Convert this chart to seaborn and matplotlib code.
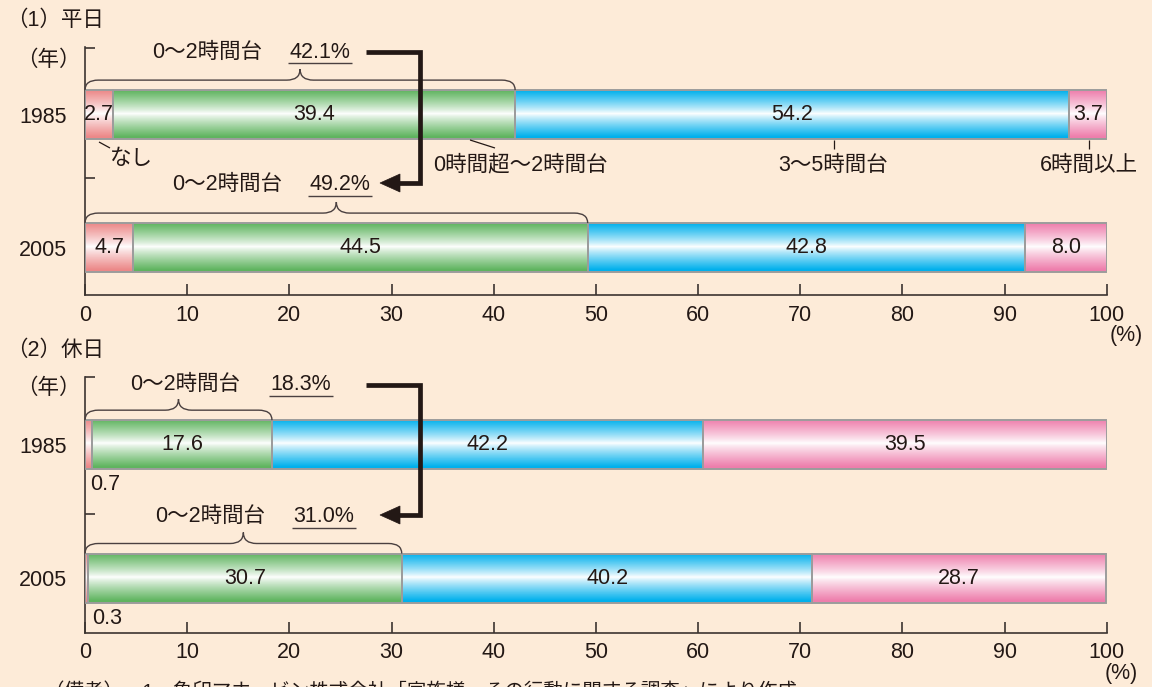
import numpy as np
import matplotlib
matplotlib.use("Agg")
import matplotlib.pyplot as plt
import matplotlib.colors as mcolors
from matplotlib.path import Path
from matplotlib.patches import PathPatch, Polygon
from matplotlib.lines import Line2D
import seaborn as sns

# ---------------- data ----------------
years = ["1985", "2005"]
categories = ["なし", "0時間超〜2時間台", "3〜5時間台", "6時間以上"]
weekday_none = [2.7, 4.7]
weekday_0to2 = [39.4, 44.5]
weekday_3to5 = [54.2, 42.8]
weekday_6plus = [3.7, 8.0]
holiday_none = [0.7, 0.3]
holiday_0to2 = [17.6, 30.7]
holiday_3to5 = [42.2, 40.2]
holiday_6plus = [39.5, 28.7]
xticks = [0, 10, 20, 30, 40, 50, 60, 70, 80, 90, 100]
panel_titles = ["（1）平日", "（2）休日"]
group_label = "0〜2時間台"
footnote = "（備考）　1．象印マホービン株式会社「家族様　その行動に関する調査」により作成"

# ---------------- style ----------------
BG = "#FDEBD8"
TXT = "#231815"
SPINE = "#3C3431"
EDGE = "#9C9C9C"
COLORS = ["#EC8888", "#5FB45F", "#00B0EC", "#EE7EAC"]
BAR_H = 0.368
FS = 15.5

sns.set_style("ticks")
plt.rcParams["font.family"] = ["Liberation Sans", "Noto Sans CJK JP", "DejaVu Sans"]
plt.rcParams["text.color"] = TXT

W, H = 1152, 687
fig = plt.figure(figsize=(W / 100, H / 100), dpi=100, facecolor=BG)


def fx(px):
    return px / W


def fy(py):
    return 1 - py / H


def ftext(px, py, s, size=FS, ha="center", va="center"):
    fig.text(fx(px), fy(py), s, ha=ha, va=va, fontsize=size, color=TXT)


def fline(xs, ys, lw=1.0, color=TXT):
    fig.add_artist(Line2D([fx(v) for v in xs], [fy(v) for v in ys], lw=lw,
                          color=color, solid_joinstyle="miter", solid_capstyle="butt"))


def add_gradient(ax, patch):
    base = np.array(mcolors.to_rgb(patch.get_facecolor()))
    t = np.linspace(0, 1, 80)
    w = np.clip(np.abs(t - 0.48) / 0.48, 0, 1) ** 0.85
    rows = 1 - w[:, None] * (1 - base[None, :])
    img = np.repeat(rows[:, None, :], 2, axis=1)
    x0, y0 = patch.get_x(), patch.get_y()
    x1, y1 = x0 + patch.get_width(), y0 + patch.get_height()
    im = ax.imshow(img, extent=[x0, x1, y1, y0], aspect="auto",
                   interpolation="bilinear", origin="upper", zorder=2)
    im.set_clip_path(patch)
    patch.set_facecolor("none")
    patch.set_zorder(3)


def brace(ax, x0, x1, ycat):
    yb = ycat - BAR_H / 2
    h1, h2 = 0.075, 0.158
    r = 1.3
    xm = (x0 + x1) / 2
    verts = [(x0, yb), (x0, yb - h1), (x0 + r, yb - h1),
             (xm - r, yb - h1), (xm, yb - h1), (xm, yb - h2),
             (xm, yb - h1), (xm + r, yb - h1),
             (x1 - r, yb - h1), (x1, yb - h1), (x1, yb)]
    codes = [Path.MOVETO, Path.CURVE3, Path.CURVE3,
             Path.LINETO, Path.CURVE3, Path.CURVE3,
             Path.CURVE3, Path.CURVE3,
             Path.LINETO, Path.CURVE3, Path.CURVE3]
    ax.add_patch(PathPatch(Path(verts, codes), fill=False, lw=1.0,
                           edgecolor="#4A4040", clip_on=False, zorder=4))


def draw_panel(ax, series, ylim, mid_tick):
    left = np.zeros(len(years))
    for vals, col in zip(series, COLORS):
        sns.barplot(x=vals, y=years, orient="h", color=col, saturation=1,
                    width=BAR_H, left=left.copy(), errorbar=None, ax=ax,
                    edgecolor=EDGE, linewidth=1.4)
        left += np.array(vals)
    for patch in list(ax.patches):
        add_gradient(ax, patch)
    for cont, vals in zip(ax.containers, series):
        labels = [f"{v:.1f}" if v >= 1 else "" for v in vals]
        ax.bar_label(cont, labels=labels, label_type="center", fontsize=FS,
                     color=TXT, zorder=5)
    ax.set_facecolor(BG)
    ax.set_xlim(0, 100)
    ax.set_ylim(*ylim)
    ax.set_xticks(xticks)
    ax.set_xticklabels([str(t) for t in xticks])
    ax.set_yticks([0, 1])
    ax.set_yticklabels(years)
    ax.set_yticks([ylim[1] + 0.004, mid_tick], minor=True)
    ax.tick_params(axis="y", which="major", length=0, pad=13, labelsize=FS,
                   labelcolor=TXT)
    ax.tick_params(axis="y", which="minor", length=7, width=1.2,
                   direction="in", color=SPINE)
    ax.tick_params(axis="x", which="major", length=8, width=1.2,
                   direction="in", color=SPINE, pad=7, labelsize=FS,
                   labelcolor=TXT)
    ax.set_xlabel("")
    ax.set_ylabel("")
    for s in ["top", "right"]:
        ax.spines[s].set_visible(False)
    for s in ["left", "bottom"]:
        ax.spines[s].set_color(SPINE)
        ax.spines[s].set_linewidth(1.2)
    for i in range(len(years)):
        brace(ax, 0, series[0][i] + series[1][i], i)


# ---------------- top panel: weekdays ----------------
ax1 = fig.add_axes([fx(85), fy(295), fx(1106.7) - fx(85), (295 - 47) / H])
wk = [weekday_none, weekday_0to2, weekday_3to5, weekday_6plus]
draw_panel(ax1, wk, (1.357, -0.508), 0.48)

# ---------------- bottom panel: holidays ----------------
ax2 = fig.add_axes([fx(85), fy(632.7), fx(1106.7) - fx(85), (632.7 - 376.7) / H])
hd = [holiday_none, holiday_0to2, holiday_3to5, holiday_6plus]
draw_panel(ax2, hd, (1.41, -0.51), 0.52)

# ---------------- titles / units ----------------
ftext(6, 20, panel_titles[0], ha="left")
ftext(6, 350, panel_titles[1], ha="left")
ftext(48, 60, "（年）")
ftext(48, 388, "（年）")
ftext(1126, 335, "(%)", size=15.5)
ftext(1121, 674, "(%)", size=15.5)

# ---------------- group annotations ----------------
wk_tot = [weekday_none[i] + weekday_0to2[i] for i in range(2)]
hd_tot = [holiday_none[i] + holiday_0to2[i] for i in range(2)]
groups = [
    # label x, pct x, y, underline y
    (207, 320, 52, 63, wk_tot[0]),
    (227, 340, 184, 196, wk_tot[1]),
    (185, 301, 384, 396, hd_tot[0]),
    (210, 324, 516, 528, hd_tot[1]),
]
for lx, px, py, uy, val in groups:
    ftext(lx, py, group_label)
    ftext(px, py, f"{val:.1f}%")
    fline([px - 32, px + 32], [uy, uy], lw=1.0, color="#4A4040")

# arrows (weekday and holiday)
for ys, ye in [(52, 183), (385, 515)]:
    fline([366, 420, 420, 396], [ys, ys, ye, ye], lw=3.4, color=TXT)
    fig.add_artist(Polygon([(fx(380), fy(ye)), (fx(400), fy(ye - 9)),
                            (fx(400), fy(ye + 9))], closed=True,
                           facecolor=TXT, edgecolor=TXT, lw=0.5))

# ---------------- category callouts (weekday 1985) ----------------
fline([99, 110], [142, 148], lw=0.9)
ftext(131, 158, categories[0])
fline([470, 495], [140, 148], lw=0.9)
ftext(520, 165, categories[1])
fline([834, 834], [140, 149], lw=0.9)
ftext(833, 165, categories[2])
fline([1089, 1089], [140, 149], lw=0.9)
ftext(1089, 165, categories[3])

# small values written below the holiday bars
ftext(105, 485, f"{holiday_none[0]:.1f}")
ftext(107, 618, f"{holiday_none[1]:.1f}")

# footnote (cut by lower edge as in the original)
ftext(45, 691, footnote, size=14, ha="left")

fig.savefig("out.png", dpi=100, facecolor=BG)
